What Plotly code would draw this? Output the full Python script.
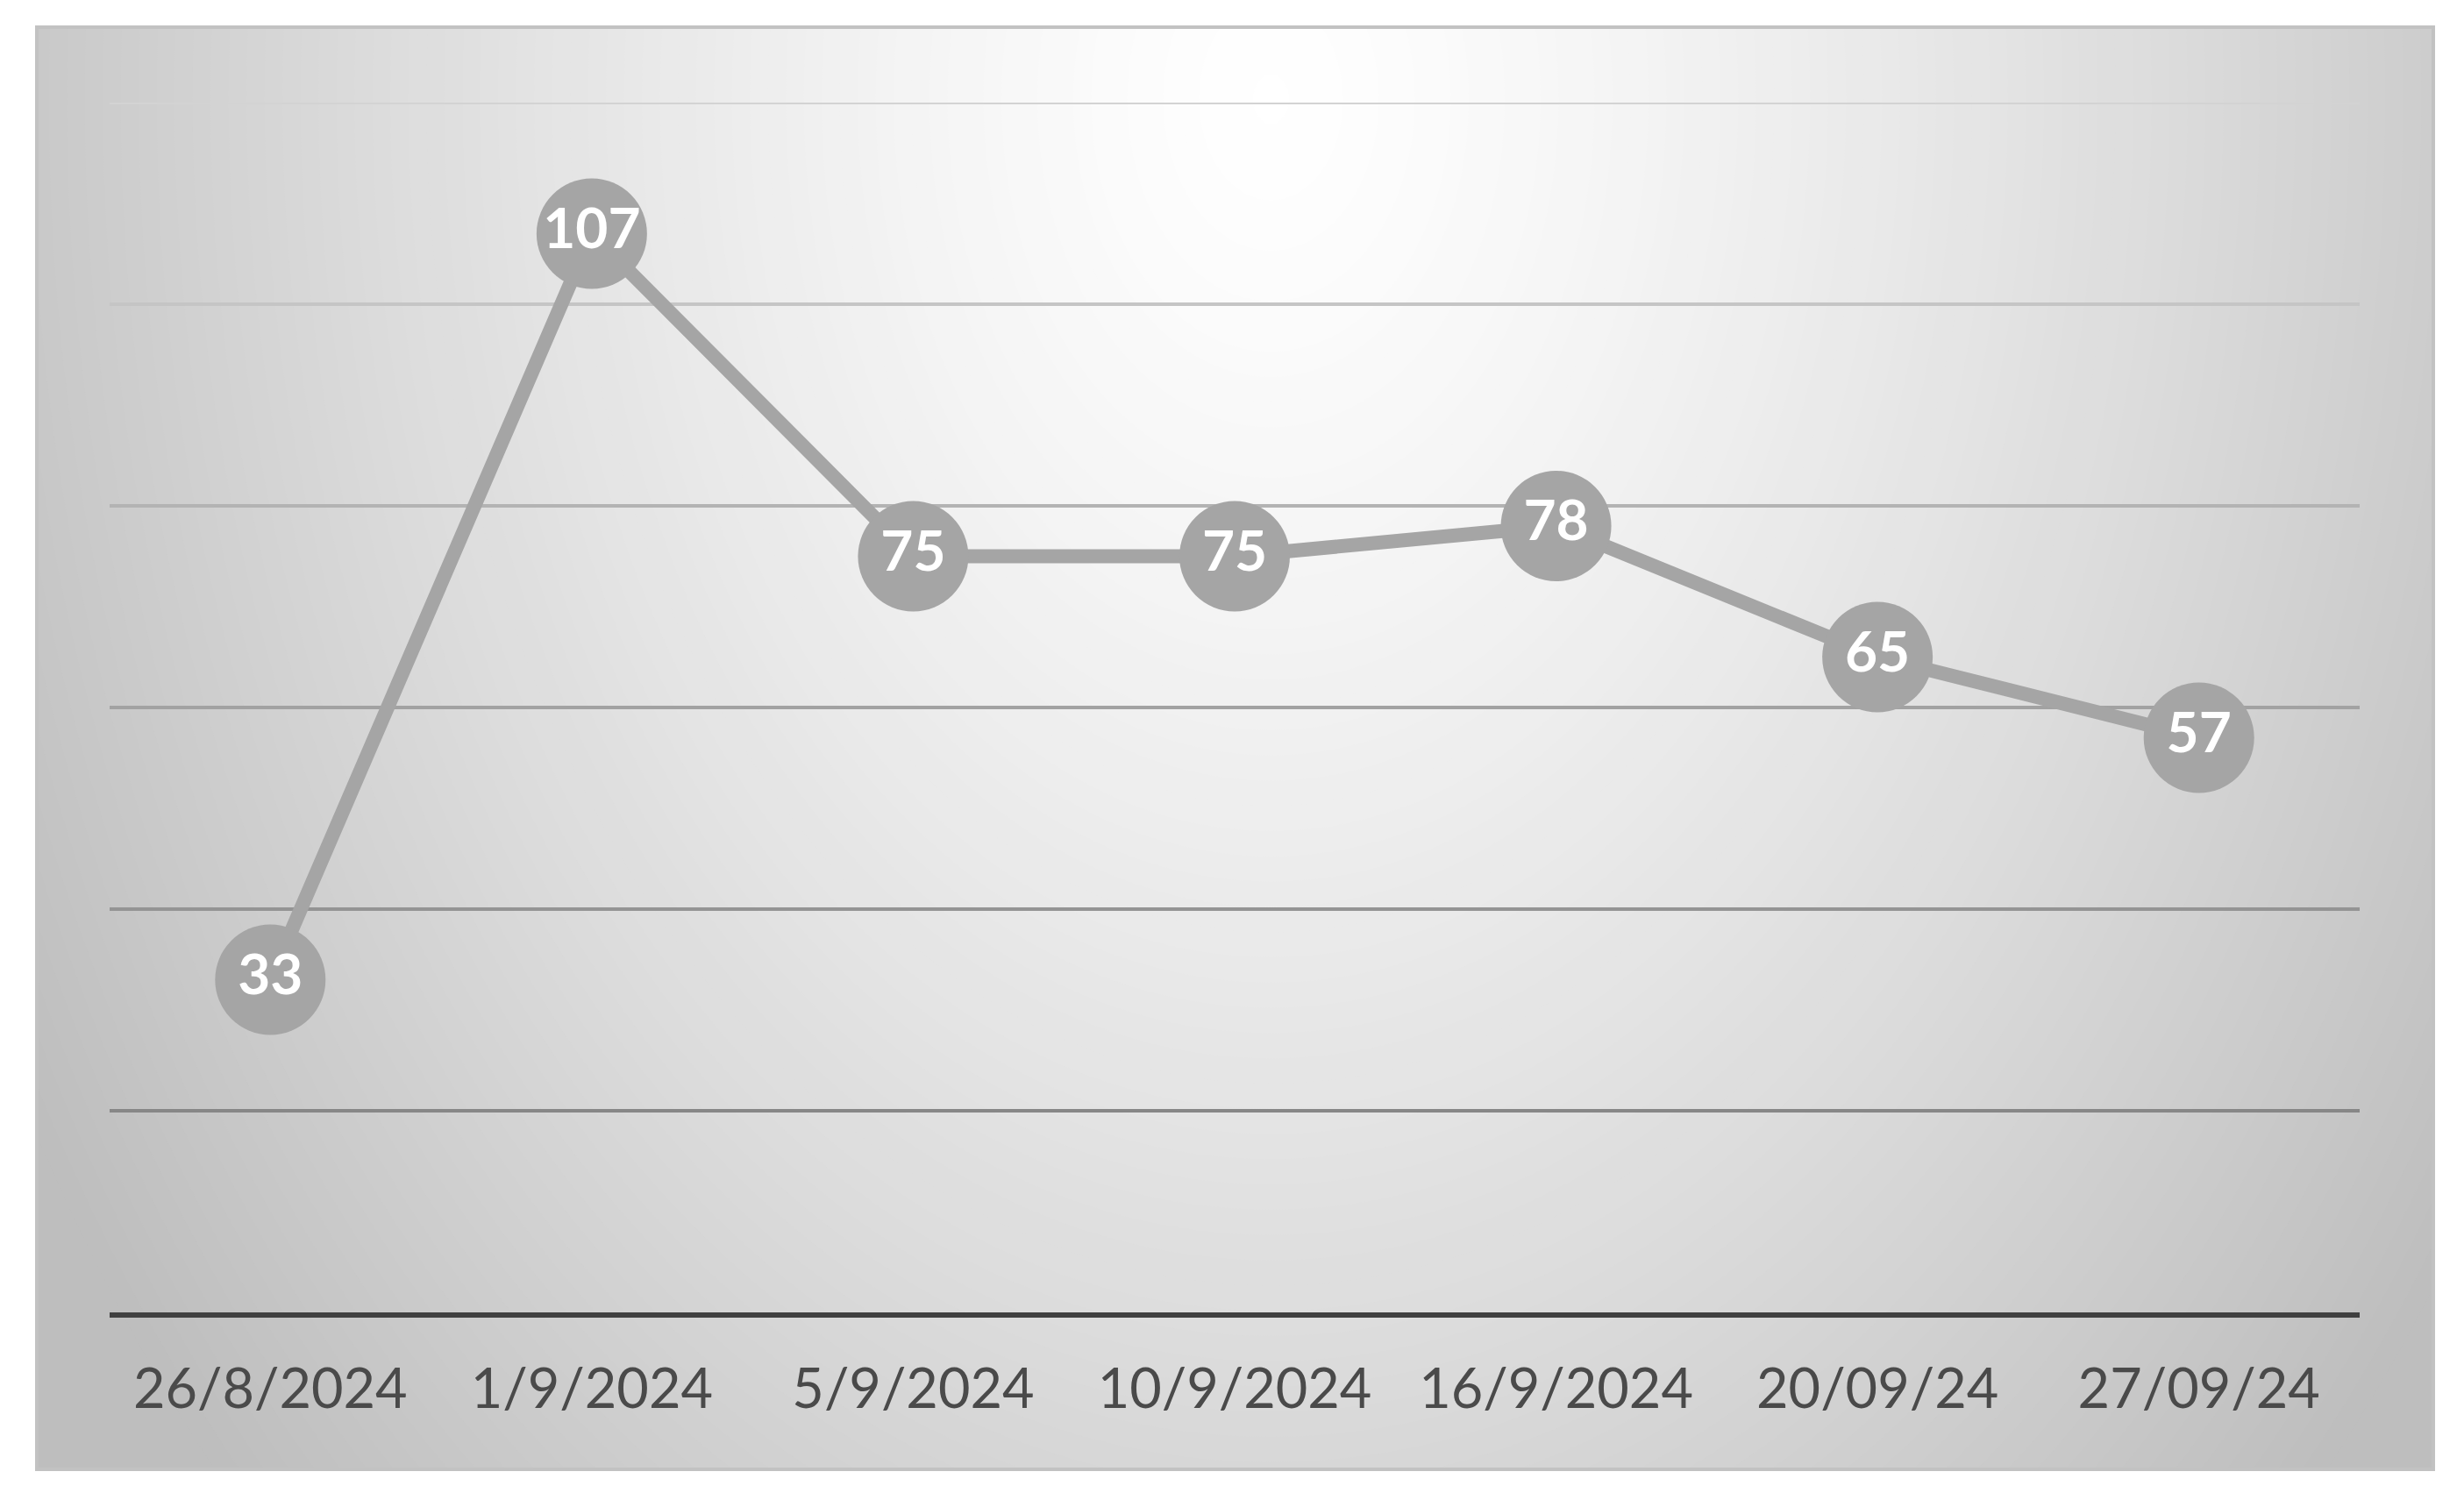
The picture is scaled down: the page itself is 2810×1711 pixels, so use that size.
import plotly.graph_objects as go

# ---- data ----
categories = ["26/8/2024", "1/9/2024", "5/9/2024", "10/9/2024", "16/9/2024", "20/09/24", "27/09/24"]
values = [33, 107, 75, 75, 78, 65, 57]
grid_values = [20, 40, 60, 80, 100, 120]
grid_colors = ["#878787", "#949494", "#A2A2A2", "#B3B3B3", "#C5C5C5", "#D3D3D3"]

W, H = 2810, 1711
OFF = 8  # page body margin offset
BOX_L, BOX_T, BOX_R, BOX_B = 42, 31, 2775, 1676
ML, MT = BOX_L - OFF, BOX_T - OFF
MR, MB = W - BOX_R + OFF, H - BOX_B + OFF
PW, PH = BOX_R - BOX_L, BOX_B - BOX_T

fig = go.Figure()
fig.add_trace(go.Scatter(
    x=categories, y=values, mode="lines+markers+text",
    line=dict(color="#A5A5A5", width=16),
    marker=dict(size=126, color="#A5A5A5", line=dict(width=0)),
    text=[str(v) for v in values], textposition="middle center",
    textfont=dict(family="Lato", size=64, color="white", weight="bold"),
    cliponaxis=False, hoverinfo="skip", showlegend=False,
))

shapes = []
# background: base gray box
shapes.append(dict(type="rect", xref="paper", yref="paper", x0=0, x1=1, y0=0, y1=1,
                   fillcolor="#BEBEBE", line=dict(width=0), layer="below"))
# radial gradient via stacked opaque ellipses of increasing lightness
cx, cy = 0.515, 0.95
a, b = 0.60, 1.40
N = 80
for k in range(N):
    r = 1 - k / N
    g = int(round(255 - 65 * r ** 1.3))
    shapes.append(dict(type="circle", xref="paper", yref="paper",
                       x0=cx - a * r, x1=cx + a * r, y0=cy - b * r, y1=cy + b * r,
                       fillcolor=f"rgb({g},{g},{g})", line=dict(width=0), layer="below"))
# white masks outside box
for (x0, x1, y0, y1) in [(-1, 0, -1, 2), (1, 2, -1, 2), (0, 1, 1, 2), (0, 1, -1, 0)]:
    shapes.append(dict(type="rect", xref="paper", yref="paper", x0=x0, x1=x1, y0=y0, y1=y1,
                       fillcolor="white", line=dict(width=0), layer="below"))
# box edge
shapes.append(dict(type="rect", xref="paper", yref="paper", x0=0, x1=1, y0=0, y1=1,
                   fillcolor="rgba(0,0,0,0)", line=dict(width=4, color="#C2C2C2"), layer="below"))
# gridlines
for gv, gc in zip(grid_values, grid_colors):
    shapes.append(dict(type="line", xref="x domain", yref="y", x0=0, x1=1, y0=gv, y1=gv,
                       line=dict(width=4, color=gc), layer="below"))

fig.update_layout(
    width=W, height=H,
    margin=dict(l=ML, r=MR, t=MT, b=MB, pad=0),
    paper_bgcolor="white", plot_bgcolor="rgba(0,0,0,0)",
    shapes=shapes,
    xaxis=dict(domain=[(125 - BOX_L) / PW, (2691 - BOX_L) / PW], range=[-0.5, 6.5],
               showgrid=False, zeroline=False, showline=True, linecolor="#404040", linewidth=6,
               ticks="", tickfont=dict(family="Lato", size=63, color="#4A4A4A"),
               ticklabelstandoff=27),
    yaxis=dict(domain=[(BOX_B - 1497) / PH, (BOX_B - 117) / PH], range=[0, 120],
               showgrid=False, zeroline=False, showline=False, showticklabels=False, ticks=""),
)

fig.write_html("out.html")
